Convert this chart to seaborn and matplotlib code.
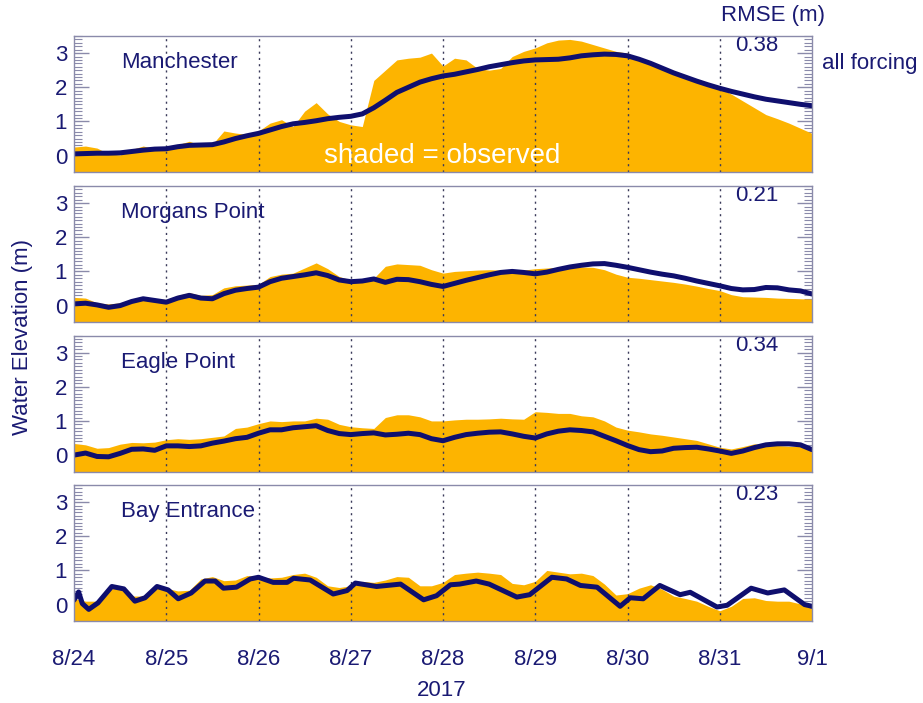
import numpy as np
import pandas as pd
import matplotlib
matplotlib.use("Agg")
import matplotlib.pyplot as plt
from matplotlib.ticker import MultipleLocator, FixedLocator
import seaborn as sns

sns.set_theme(style="white")
plt.rcParams["font.family"] = ["Liberation Sans", "DejaVu Sans"]

# ---------------- data ----------------
# time axis: days after 8/24 00:00, 3-hourly samples
hours_step = 3
n_steps = 65
t_days = [k * hours_step / 24 for k in range(n_steps)]

day_labels = ["8/24", "8/25", "8/26", "8/27", "8/28", "8/29", "8/30", "8/31", "9/1"]
stations = ["Manchester", "Morgans Point", "Eagle Point", "Bay Entrance"]
rmse = ["0.38", "0.21", "0.34", "0.23"]

obs_manchester = [
    0.25, 0.28, 0.22, 0.05, 0.02, 0.18, 0.28, 0.20, 0.14, 0.32, 0.42, 0.30, 0.33,
    0.72, 0.66, 0.62, 0.72, 0.95, 1.05, 0.85, 1.30, 1.55, 1.22, 1.00, 0.90, 0.85,
    2.20, 2.50, 2.80, 2.85, 2.88, 3.00, 2.62, 2.85, 2.80, 2.55, 2.50, 2.55, 2.90,
    3.05, 3.15, 3.30, 3.38, 3.40, 3.35, 3.25, 3.15, 3.05, 3.00, 2.85, 2.70, 2.55,
    2.40, 2.30, 2.20, 2.08, 1.97, 1.80, 1.60, 1.40, 1.20, 1.08, 0.95, 0.80, 0.65,
]
mod_manchester = [
    0.05, 0.06, 0.07, 0.07, 0.08, 0.12, 0.16, 0.19, 0.20, 0.26, 0.30, 0.31, 0.32,
    0.40, 0.50, 0.58, 0.65, 0.75, 0.85, 0.93, 0.97, 1.02, 1.08, 1.12, 1.15, 1.22,
    1.40, 1.62, 1.85, 2.00, 2.15, 2.25, 2.33, 2.38, 2.45, 2.52, 2.60, 2.66, 2.72,
    2.77, 2.80, 2.81, 2.82, 2.86, 2.92, 2.95, 2.97, 2.96, 2.92, 2.82, 2.70, 2.56,
    2.42, 2.30, 2.18, 2.07, 1.97, 1.88, 1.80, 1.72, 1.65, 1.60, 1.55, 1.50, 1.46,
]

obs_morgans = [
    0.24, 0.22, 0.08, 0.05, 0.08, 0.18, 0.26, 0.20, 0.18, 0.30, 0.38, 0.30, 0.32,
    0.52, 0.58, 0.60, 0.62, 0.85, 0.92, 0.95, 1.10, 1.25, 1.08, 0.85, 0.75, 0.78,
    0.80, 1.15, 1.22, 1.20, 1.18, 1.05, 0.95, 1.00, 1.02, 1.04, 1.05, 1.04, 1.05,
    1.04, 1.08, 1.10, 1.12, 1.12, 1.13, 1.12, 1.05, 0.92, 0.83, 0.80, 0.76, 0.72,
    0.68, 0.63, 0.57, 0.50, 0.44, 0.32, 0.26, 0.25, 0.24, 0.22, 0.21, 0.20, 0.19,
]
mod_morgans = [
    0.05, 0.07, 0.02, -0.05, 0.00, 0.12, 0.20, 0.15, 0.10, 0.22, 0.30, 0.22, 0.20,
    0.35, 0.45, 0.50, 0.54, 0.70, 0.80, 0.85, 0.90, 0.96, 0.88, 0.75, 0.70, 0.72,
    0.78, 0.68, 0.77, 0.76, 0.70, 0.62, 0.56, 0.65, 0.74, 0.82, 0.90, 0.97, 1.00,
    0.97, 0.93, 0.98, 1.06, 1.13, 1.18, 1.22, 1.23, 1.18, 1.12, 1.05, 0.98, 0.92,
    0.87, 0.80, 0.72, 0.65, 0.58, 0.50, 0.46, 0.47, 0.53, 0.52, 0.46, 0.43, 0.34,
]

obs_eagle = [
    0.34, 0.30, 0.20, 0.22, 0.32, 0.37, 0.36, 0.38, 0.45, 0.48, 0.46, 0.48, 0.52,
    0.56, 0.78, 0.82, 0.92, 1.00, 0.98, 1.00, 1.00, 1.08, 1.05, 0.90, 0.83, 0.80,
    0.78, 1.10, 1.18, 1.18, 1.12, 1.00, 1.00, 1.03, 1.05, 1.05, 1.06, 1.08, 1.06,
    1.05, 1.27, 1.25, 1.22, 1.22, 1.15, 1.12, 1.00, 0.82, 0.73, 0.68, 0.62, 0.58,
    0.53, 0.48, 0.43, 0.33, 0.23, 0.18, 0.25, 0.33, 0.30, 0.28, 0.26, 0.25, 0.23,
]
mod_eagle = [
    0.00, 0.06, -0.04, -0.05, 0.05, 0.17, 0.18, 0.14, 0.27, 0.27, 0.25, 0.27, 0.35,
    0.41, 0.48, 0.52, 0.64, 0.74, 0.74, 0.80, 0.83, 0.86, 0.72, 0.63, 0.60, 0.63,
    0.65, 0.59, 0.61, 0.64, 0.60, 0.48, 0.42, 0.52, 0.60, 0.64, 0.67, 0.68, 0.62,
    0.55, 0.50, 0.62, 0.70, 0.74, 0.72, 0.68, 0.55, 0.42, 0.28, 0.16, 0.10, 0.12,
    0.20, 0.22, 0.23, 0.18, 0.12, 0.05, 0.12, 0.22, 0.30, 0.33, 0.33, 0.30, 0.16,
]

obs_bay = [
    0.18, 0.10, 0.10, 0.45, 0.50, 0.25, 0.25, 0.52, 0.48, 0.40, 0.42, 0.75, 0.82,
    0.70, 0.72, 0.85, 0.82, 0.78, 0.80, 0.88, 0.92, 0.80, 0.55, 0.50, 0.55, 0.68,
    0.65, 0.72, 0.82, 0.80, 0.55, 0.55, 0.65, 0.88, 0.92, 0.95, 0.92, 0.88, 0.62,
    0.58, 0.68, 1.00, 0.95, 0.90, 0.92, 0.85, 0.60, 0.28, 0.32, 0.48, 0.58, 0.45,
    0.25, 0.18, 0.10, -0.05, -0.18, -0.05, 0.18, 0.20, 0.12, 0.10, 0.10, 0.02, -0.12,
]
# tidal model output at Bay Entrance, with its own (irregular) output times
bay_mod_days = [
    0.00, 0.05, 0.09, 0.16, 0.26, 0.41, 0.54, 0.66, 0.77, 0.90, 1.02, 1.13, 1.27,
    1.42, 1.53, 1.62, 1.76, 1.91, 2.00, 2.16, 2.31, 2.38, 2.56, 2.81, 2.96, 3.05,
    3.28, 3.54, 3.79, 3.93, 4.08, 4.18, 4.36, 4.50, 4.80, 4.94, 5.18, 5.34, 5.49,
    5.67, 5.92, 6.03, 6.17, 6.35, 6.57, 6.68, 6.97, 7.08, 7.34, 7.52, 7.70, 7.92, 8.00,
]
mod_bay = [
    0.13, 0.37, 0.03, -0.14, 0.05, 0.53, 0.46, 0.10, 0.20, 0.53, 0.43, 0.17, 0.34,
    0.69, 0.69, 0.48, 0.51, 0.75, 0.80, 0.65, 0.65, 0.77, 0.72, 0.31, 0.41, 0.63,
    0.53, 0.60, 0.14, 0.26, 0.58, 0.60, 0.69, 0.60, 0.22, 0.29, 0.80, 0.75, 0.56,
    0.51, -0.05, 0.20, 0.17, 0.56, 0.29, 0.36, -0.07, -0.02, 0.48, 0.34, 0.43, 0.00, -0.05,
]

observed = [obs_manchester, obs_morgans, obs_eagle, obs_bay]
modeled = [
    (t_days, mod_manchester),
    (t_days, mod_morgans),
    (t_days, mod_eagle),
    (bay_mod_days, mod_bay),
]

# ---------------- style ----------------
ORANGE = "#fdb400"
NAVY = "#0f0f6e"
TEXT = "#1a1a73"
FRAME = "#8a8aaa"
FS = 16
YMIN, YMAX = -0.48, 3.5

fig = plt.figure(figsize=(9.23, 7.03), dpi=100)
left, width, height = 74 / 923, 738 / 923, 136 / 703
bottoms_px = [172, 322, 471.5, 621]

axes = []
for i, name in enumerate(stations):
    ax = fig.add_axes([left, 1 - bottoms_px[i] / 703, width, height])
    axes.append(ax)

    ax.fill_between(t_days, YMIN, observed[i], color=ORANGE, lw=0, zorder=1)
    mt, mv = modeled[i]
    sns.lineplot(x=mt, y=mv, ax=ax, color=NAVY, lw=3.6, zorder=3,
                 sort=False, estimator=None)

    for d in range(1, 8):
        ax.axvline(d, color="#3a3a5a", lw=1.0, ls=(0, (1.5, 3)), zorder=2)

    ax.set_xlim(0, 8)
    ax.set_ylim(YMIN, YMAX)
    ax.set_xlabel("")
    ax.set_ylabel("")

    ax.yaxis.set_major_locator(FixedLocator([0, 1, 2, 3]))
    ax.yaxis.set_minor_locator(MultipleLocator(0.1))
    ax.tick_params(axis="y", which="major", direction="in", length=11, width=1.0,
                   color=FRAME, left=True, right=True, labelsize=FS,
                   labelcolor=TEXT, pad=5)
    ax.tick_params(axis="y", which="minor", direction="in", length=5.5, width=0.8,
                   color=FRAME, left=True, right=True)
    ax.set_xticks(range(9))
    ax.tick_params(axis="x", which="both", length=0, labelsize=FS,
                   labelcolor=TEXT, pad=20)
    if i < 3:
        ax.set_xticklabels([])
    else:
        ax.set_xticklabels(day_labels)

    for sp in ax.spines.values():
        sp.set_color(FRAME)
        sp.set_linewidth(1.0)
        sp.set_zorder(5)

    ax.text(0.0637, 0.805, name, transform=ax.transAxes, fontsize=FS,
            color=TEXT, ha="left", va="center")
    ax.text(0.925, 0.93, rmse[i], transform=ax.transAxes, fontsize=FS,
            color=TEXT, ha="center", va="center")

axes[0].text(0.4986, 0.118, "shaded = observed", transform=axes[0].transAxes,
             fontsize=20, color="white", ha="center", va="center", zorder=6)

fig.text(773 / 923, 1 - 16 / 703, "RMSE (m)", fontsize=FS, color=TEXT,
         ha="center", va="center")
fig.text(822 / 923, 1 - 63 / 703, "all forcing", fontsize=FS, color=TEXT,
         ha="left", va="center")
fig.text(23 / 923, 1 - 337 / 703, "Water Elevation (m)", fontsize=FS,
         color=TEXT, rotation=90, ha="center", va="center")
fig.text(442 / 923, 1 - 690 / 703, "2017", fontsize=FS, color=TEXT,
         ha="center", va="center")

fig.savefig("out.png", dpi=100, facecolor="white")
